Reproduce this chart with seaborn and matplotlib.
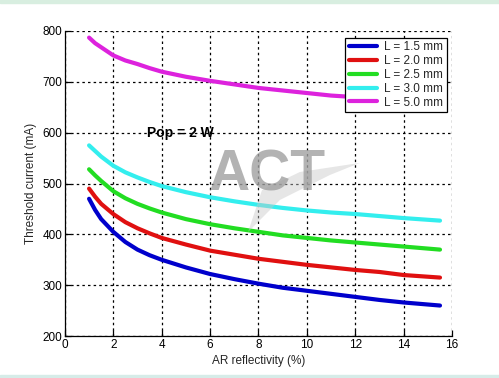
#!/usr/bin/env python
# coding: utf-8
"""Threshold current versus AR reflectivity for several cavity lengths."""

import pandas as pd
import seaborn as sns
from matplotlib import pyplot as plt
from matplotlib.patches import Polygon, Rectangle

# AR reflectivity (%)
reflectivity = [1.0, 1.25, 1.5, 2.0, 2.5, 3.0, 3.5, 4.0, 5.0, 6.0, 7.0,
                8.0, 9.0, 10.0, 11.0, 12.0, 13.0, 14.0, 15.5]

# threshold current (mA) per cavity length
ith_15 = [470, 448, 430, 405, 385, 370, 359, 350, 335, 322, 312, 303, 295,
          289, 283, 277, 271, 266, 260]
ith_20 = [490, 474, 460, 440, 424, 412, 402, 393, 380, 368, 360, 352, 346,
          340, 335, 330, 326, 320, 315]
ith_25 = [528, 516, 505, 485, 471, 460, 451, 443, 430, 420, 412, 405, 398,
          393, 388, 384, 380, 376, 370]
ith_30 = [575, 564, 553, 535, 522, 512, 503, 495, 483, 473, 465, 458, 452,
          447, 443, 440, 436, 432, 427]
ith_50 = [787, 776, 768, 752, 742, 735, 727, 720, 710, 702, 695, 688, 683,
          678, 673, 670, 667, 664, 660]

labels = ["L = 1.5 mm", "L = 2.0 mm", "L = 2.5 mm", "L = 3.0 mm",
          "L = 5.0 mm"]
colors = ["#0000cc", "#e01010", "#22dd22", "#33eeee", "#dd22dd"]

frames = []
for lab, vals in zip(labels, [ith_15, ith_20, ith_25, ith_30, ith_50]):
    frames.append(pd.DataFrame({"x": reflectivity, "y": vals, "L": lab}))
data = pd.concat(frames, ignore_index=True)

sns.set_theme(style="white")
plt.rcParams["font.family"] = ["Liberation Sans", "DejaVu Sans"]

fig = plt.figure(figsize=(4.99, 3.78), dpi=100)
ax = fig.add_axes([0.130, 0.111, 0.776, 0.807])

# thin coloured strips along top and bottom of the picture
fig.patches.append(Rectangle((0, 0.993), 1, 0.007, transform=fig.transFigure,
                             color="#d8eee0", zorder=0))
fig.patches.append(Rectangle((0, 0), 1, 0.008, transform=fig.transFigure,
                             color="#d6ece8", zorder=0))

sns.lineplot(data=data, x="x", y="y", hue="L", palette=colors,
             linewidth=3, ax=ax, legend=True)

ax.set_xlim(0, 16)
ax.set_ylim(200, 800)
ax.set_xticks(range(0, 17, 2))
ax.set_yticks(range(200, 801, 100))
ax.grid(True, color="black", linestyle=(0, (2, 2.5)), linewidth=0.9)
ax.set_axisbelow(True)
for side in ["top", "right"]:
    ax.spines[side].set_visible(False)
for side in ["left", "bottom"]:
    ax.spines[side].set_color("black")
    ax.spines[side].set_linewidth(0.9)
ax.tick_params(direction="in", length=4, width=0.9, colors="black",
               labelsize=8.5, pad=2, top=False, right=False,
               bottom=True, left=True)
ax.set_xlabel("AR reflectivity (%)", fontsize=8.5, labelpad=3)
ax.set_ylabel("Threshold current (mA)", fontsize=8.5, labelpad=4)

ax.text(3.4, 600, "Pop = 2 W", fontsize=10, fontweight="bold",
        va="center", ha="left", color="black")

# watermark: grey swoosh plus lettering
fig.patches.append(Polygon([[0.721, 0.569], [0.601, 0.545], [0.525, 0.497],
                            [0.497, 0.386], [0.561, 0.471], [0.661, 0.537]],
                           closed=True, transform=fig.transFigure,
                           facecolor="#c8c8c8", edgecolor="none",
                           alpha=0.45, zorder=3))
fig.text(0.535, 0.535, "ACT", fontsize=41, fontweight="bold",
         color="#a0a0a0", alpha=0.8, ha="center", va="center", zorder=4)

leg = ax.legend(loc="upper right", bbox_to_anchor=(0.992, 0.985),
                fontsize=8.5, frameon=True, fancybox=False,
                edgecolor="black", framealpha=1, handlelength=2.4,
                borderpad=0.3, labelspacing=0.15, handletextpad=0.6,
                borderaxespad=0.2)
leg.get_frame().set_linewidth(0.9)
for line in leg.get_lines():
    line.set_linewidth(3)

fig.savefig("out.png", dpi=100)
